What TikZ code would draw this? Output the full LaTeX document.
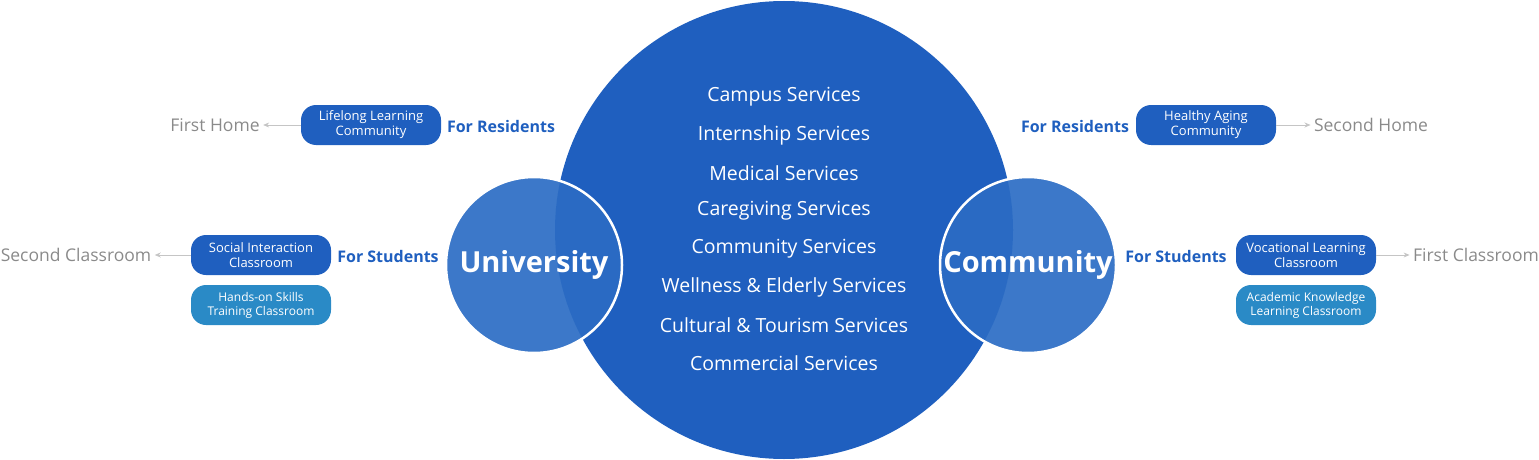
\documentclass[tikz,border=0pt]{standalone}
\usepackage{fontspec}
\setmainfont{Open Sans}
\usetikzlibrary{arrows.meta}
\definecolor{big}{HTML}{1F5FBF}
\definecolor{small}{HTML}{2B6CC4}
\definecolor{teal}{HTML}{2A8AC6}
\definecolor{gr}{HTML}{8A8A8A}
\tikzset{
 pill/.style={fill=big,rounded corners=15pt,minimum width=140pt,minimum height=40pt,text=white,font=\fontsize{13}{15}\selectfont,align=center,inner sep=1pt},
 pillb/.style={pill,fill=teal,font=\fontsize{12}{14}\selectfont},
 lbl/.style={text=big,font=\fontsize{16}{18}\selectfont\bfseries},
 outtxt/.style={text=gr,font=\fontsize{17.5}{20}\selectfont},
 arr/.style={draw=gr!50,-{Stealth[length=6pt,width=5pt]},line width=0.8pt},
 svc/.style={text=white,font=\fontsize{19.5}{22}\selectfont},
 ring/.style={fill=small,fill opacity=0.92,draw=white,line width=2.5pt,circle,minimum size=176pt,inner sep=0pt,text opacity=1,text=white,font=\fontsize{29}{32}\selectfont\bfseries}
}
\begin{document}
\begin{tikzpicture}[x=1pt,y=-1pt]
\useasboundingbox (0,0) rectangle (1539,460);
\node[circle,fill=big,minimum size=458pt,inner sep=0pt] (big) at (784,230) {};
\node[ring] (uni) at (534,265) {University};
\node[ring] (com) at (1028,265) {Community};
\foreach \t [count=\i from 0] in {Campus Services,Internship Services,Medical Services,Caregiving Services,Community Services,Wellness \& Elderly Services,Cultural \& Tourism Services,Commercial Services}
  \node[svc] (s\i) at (784,97+38*\i) {\t};
% left
\node[pill] (lc) at (371,125) {Lifelong Learning\\Community};
\node[lbl] (lr) at (501,126) {For Residents};
\node[outtxt] (fh) at (215,125) {First Home};
\draw[arr] (lc.west) -- (fh.east);
\node[pill] (sc) at (261,255) {Social Interaction\\Classroom};
\node[lbl] (ls) at (388,256) {For Students};
\node[outtxt] (scl) at (76,255) {Second Classroom};
\draw[arr] (sc.west) -- (scl.east);
\node[pillb] (hs) at (261,305) {Hands-on Skills\\Training Classroom};
% right
\node[pill] (ha) at (1206,125) {Healthy Aging\\Community};
\node[lbl] (rr) at (1075,126) {For Residents};
\node[outtxt] (sh) at (1371,125) {Second Home};
\draw[arr] (ha.east) -- (sh.west);
\node[pill] (vl) at (1306,255) {Vocational Learning\\Classroom};
\node[lbl] (rs) at (1176,256) {For Students};
\node[outtxt] (fc) at (1476,255) {First Classroom};
\draw[arr] (vl.east) -- (fc.west);
\node[pillb] (ak) at (1306,305) {Academic Knowledge\\Learning Classroom};
\end{tikzpicture}
\end{document}
